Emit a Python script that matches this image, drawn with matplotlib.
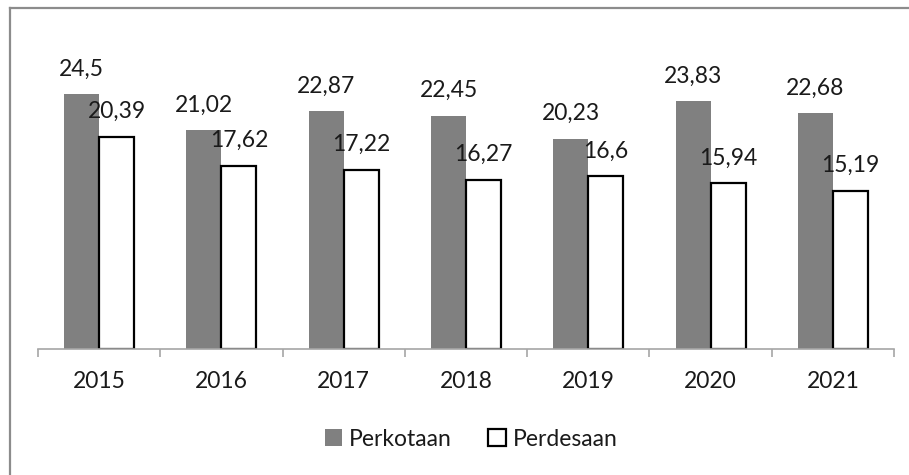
import matplotlib
matplotlib.use("Agg")
import matplotlib.pyplot as plt
from matplotlib.patches import Patch
from matplotlib.lines import Line2D
import numpy as np

years = ["2015", "2016", "2017", "2018", "2019", "2020", "2021"]
perkotaan = [24.5, 21.02, 22.87, 22.45, 20.23, 23.83, 22.68]
perdesaan = [20.39, 17.62, 17.22, 16.27, 16.6, 15.94, 15.19]
series_names = ["Perkotaan", "Perdesaan"]

FONT = ["Lato", "DejaVu Sans"]
plt.rcParams['font.family'] = FONT
FS = 16.5
TXT = "#1a1a1a"

W, H = 909, 475
fig = plt.figure(figsize=(W / 100, H / 100), dpi=100)
ax = fig.add_axes([38 / W, 1 - 349 / H, (894 - 38) / W, 312 / H])

x = np.arange(len(years))
bw = 35 / 122.3
b1 = ax.bar(x - bw / 2, perkotaan, bw, color="#808080", linewidth=0)
b2 = ax.bar(x + bw / 2, perdesaan, bw, facecolor="white", edgecolor="black", linewidth=1.6)

def fmt(v):
    s = f"{v:.2f}".rstrip("0").rstrip(".")
    return s.replace(".", ",")

for bars, vals in ((b1, perkotaan), (b2, perdesaan)):
    for rect, v in zip(bars, vals):
        ax.annotate(fmt(v), (rect.get_x() + rect.get_width() / 2, v),
                    xytext=(0, 13.5), textcoords="offset points",
                    ha="center", va="baseline", fontsize=FS, color=TXT)

ax.set_xlim(-0.5, len(years) - 0.5)
ax.set_ylim(0, 30)
for s in ("left", "right", "top"):
    ax.spines[s].set_visible(False)
ax.spines["bottom"].set_color("#a6a6a6")
ax.spines["bottom"].set_linewidth(1.2)
ax.set_yticks([])
ax.set_xticks(np.arange(-0.5, len(years), 1.0))
ax.set_xticklabels([])
ax.tick_params(axis="x", length=6, color="#a6a6a6", width=1.2)
for xi, yr in zip(x, years):
    ax.text(xi, -0.105, yr, transform=ax.get_xaxis_transform(),
            ha="center", va="center", fontsize=FS, color=TXT)

handles = [Patch(facecolor="#808080", edgecolor="none"),
           Patch(facecolor="white", edgecolor="black", linewidth=1.6)]
fig.legend(handles, series_names, loc="center", bbox_to_anchor=(471 / W, 1 - 439 / H),
           ncol=2, frameon=False, fontsize=FS, handlelength=0.75, handleheight=0.75,
           handletextpad=0.3, columnspacing=1.6, labelcolor=TXT)

# outer chart border (gray)
fig.add_artist(Line2D([9.5 / W, 9.5 / W], [1 - 8 / H, -0.05], transform=fig.transFigure,
                      color="#8c8c8c", linewidth=1.6))
fig.add_artist(Line2D([9.5 / W, 1.05], [1 - 8 / H, 1 - 8 / H], transform=fig.transFigure,
                      color="#8c8c8c", linewidth=1.6))

fig.savefig("out.png", dpi=100)
